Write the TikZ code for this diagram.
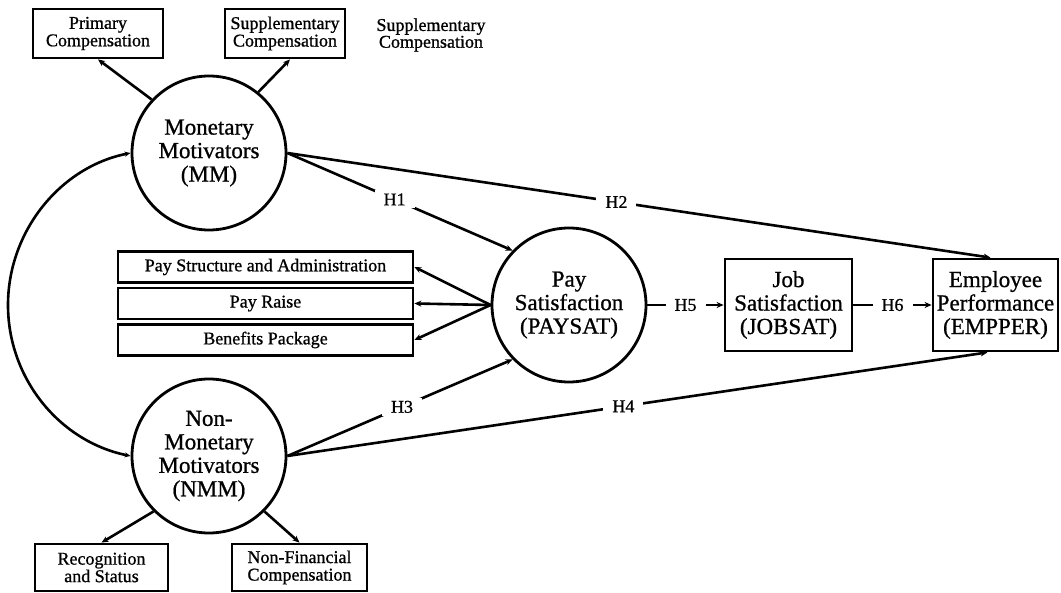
\documentclass[tikz,border=0pt]{standalone}
\usepackage{fontspec}
\setmainfont{Liberation Serif}[FakeBold=0.9]
\usetikzlibrary{arrows.meta}
\begin{document}
\begin{tikzpicture}[x=1pt,y=-1pt,
  big/.style={font=\fontsize{23}{23.5}\selectfont},
  small/.style={font=\fontsize{18}{17.5}\selectfont},
  circ/.style={draw,circle,line width=2.8pt,minimum size=154pt,inner sep=0pt,align=center,big},
  bigbox/.style={draw,rectangle,line width=2.8pt,minimum height=92pt,inner sep=0pt,align=center,big},
  smallbox/.style={draw,rectangle,line width=2.8pt,minimum height=49pt,inner sep=0pt,align=center,small},
  paybox/.style={draw,rectangle,line width=2.8pt,minimum width=295pt,minimum height=31pt,inner sep=0pt,small},
  arr/.style={line width=2.6pt,-{Stealth[length=7pt,width=6pt]}},
  barr/.style={line width=2.6pt,{Stealth[length=6pt,width=5pt]}-{Stealth[length=6pt,width=5pt]}},
  hl/.style={fill=white,inner xsep=9pt,inner ysep=3pt,small}
]
\useasboundingbox (0,0) rectangle (1061,593);
% circles
\node[circ] (MM) at (209,153) {Monetary\\Motivators\\(MM)};
\node[circ] (NMM) at (209,456) {Non-\\Monetary\\Motivators\\(NMM)};
\node[circ] (PAY) at (569,305) {Pay\\Satisfaction\\(PAYSAT)};
% boxes
\node[bigbox,minimum width=127pt] (JOB) at (788.5,305) {Job\\Satisfaction\\(JOBSAT)};
\node[bigbox,minimum width=125pt] (EMP) at (995.5,305) {Employee\\Performance\\(EMPPER)};
\node[smallbox,minimum width=130pt] (PRIM) at (98,33.5) {Primary\\Compensation};
\node[smallbox,minimum width=120pt] (SUPP) at (285,33.5) {Supplementary\\Compensation};
\node[align=center,font=\fontsize{18}{15}\selectfont] (STRAY) at (431,35) {Supplementary\\Compensation};
\node[paybox] (PB1) at (265.5,267) {Pay Structure and Administration};
\node[paybox] (PB2) at (265.5,303.5) {Pay Raise};
\node[paybox] (PB3) at (265.5,340) {Benefits Package};
\node[smallbox,minimum width=133pt,minimum height=47pt] (REC) at (101.5,567.5) {Recognition\\and Status};
\node[smallbox,minimum width=135pt,minimum height=47pt] (NF) at (299.5,567.5) {Non-Financial\\Compensation};
% connectors
\draw[arr] (MM.137) -- (PRIM.south);
\draw[arr] (MM.51) -- ([xshift=5pt]SUPP.south);
\draw[arr] (NMM.225) -- (REC.north);
\draw[arr] (NMM.315) -- (NF.north);
\draw[arr] (PAY.west) -- (PB1.east);
\draw[arr] (PAY.west) -- (PB2.east);
\draw[arr] (PAY.west) -- (PB3.east);
\draw[arr] (MM.east) -- node[hl,pos=0.476] {H1} (PAY.136);
\draw[arr] (MM.east) -- node[hl,pos=0.468] {H2} ([xshift=-5pt]EMP.north);
\draw[arr] (NMM.east) -- node[hl,pos=0.509] {H3} (PAY.224);
\draw[arr] (NMM.east) -- node[hl,pos=0.48] {H4} ([xshift=-8pt]EMP.south);
\draw[arr] (PAY.east) -- node[hl] {H5} (JOB.west);
\draw[arr] (JOB.east) -- node[hl] {H6} (EMP.west);
\draw[barr] (MM.west) .. controls (60.3,166.9) and (8,231.3) .. (8,305)
  .. controls (8,378.7) and (59.7,441.6) .. (NMM.west);
\end{tikzpicture}
\end{document}
